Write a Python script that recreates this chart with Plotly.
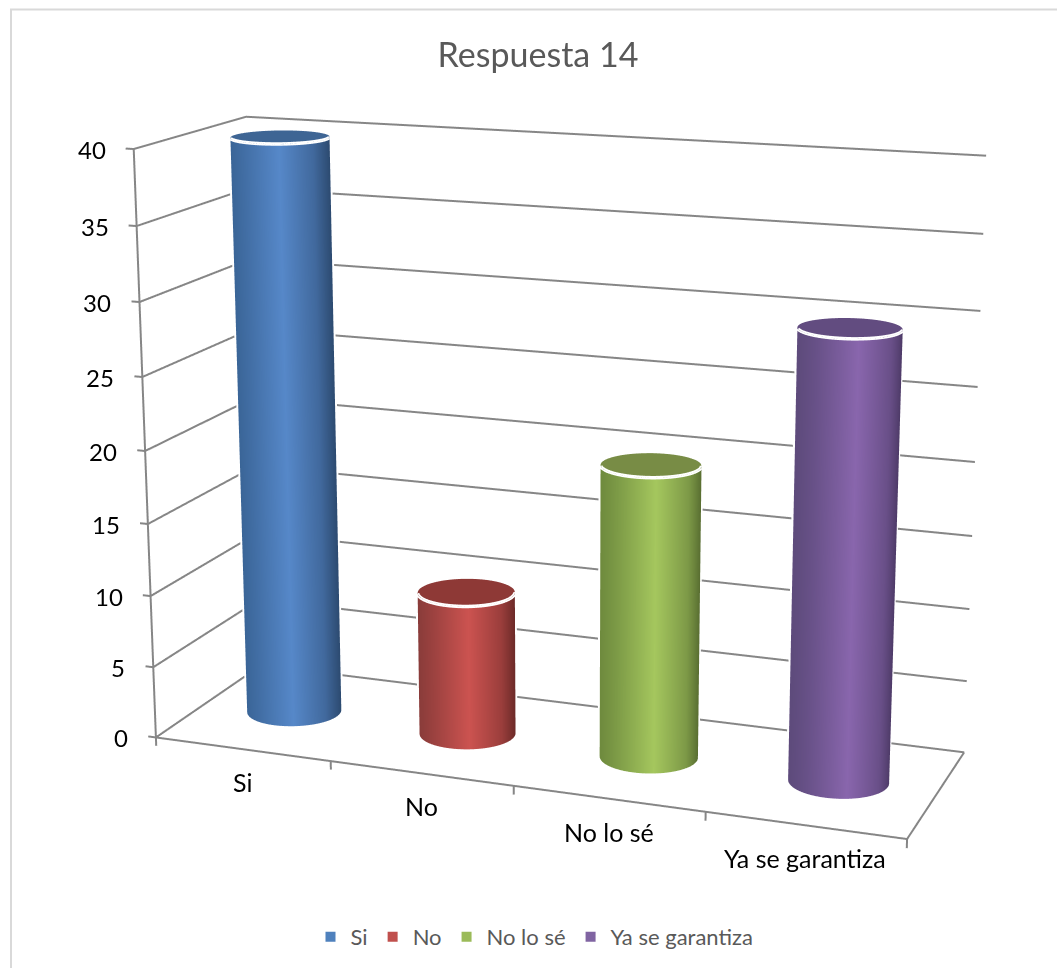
import numpy as np
import plotly.graph_objects as go

W, H = 1057, 968
categories = ["Si", "No", "No lo sé", "Ya se garantiza"]
values = [40, 10, 20, 30]
z_ticks = [0, 5, 10, 15, 20, 25, 30, 35, 40]
face_dark_left = ["#3A6597", "#8A3C3A", "#6F8B3E", "#5E4B7C"]
face_light = ["#5688C9", "#CC5350", "#A5C75E", "#8966AD"]
face_dark_right = ["#2D4B71", "#6B2A28", "#566B30", "#4A3863"]
cap_colors = ["#3E6594", "#8E3936", "#788C45", "#624C80"]
legend_colors = ["#4F81BD", "#C0504D", "#9BBB59", "#8064A2"]
GRID = "#868686"
NO_LIGHT = dict(ambient=1, diffuse=0, specular=0, roughness=1, fresnel=0)

# camera of the perspective view
eye = np.array([1.209, -3.252, 0.906])
yaw, pitch = -0.353, -0.250
forward = np.array([np.sin(yaw)*np.cos(pitch), np.cos(yaw)*np.cos(pitch), np.sin(pitch)])
center = eye + forward*np.linalg.norm(eye)
focal, cx, cy = 2846.0, 565, 441
half_w, half_h = 492, 441
fov = 2*np.arctan(half_h/focal)

# cylinder section on the floor plane: two conjugate radii
radius_a = np.array([0.2194, 0.0762])*1.05
radius_b = np.array([-0.0916, 0.1627])*1.08
theta = np.linspace(0, 2*np.pi, 181)
cos_t, sin_t = np.cos(theta), np.sin(theta)


def hex_rgb(c):
    return np.array([int(c[k:k+2], 16) for k in (1, 3, 5)], float)


def mix(c1, c2, t):
    m = hex_rgb(c1)*(1-t) + hex_rgb(c2)*t
    return "rgb(%d,%d,%d)" % tuple(m)


def flat_scale(c):
    return [[0, c], [1, c]]


def add_line(fig, xs, ys, zs, color=GRID, width=4):
    fig.add_trace(go.Scatter3d(x=xs, y=ys, z=zs, mode="lines", line=dict(color=color, width=width),
                               showlegend=False, hoverinfo="skip"))


fig = go.Figure()

# gridlines on the back and left walls
for v in z_ticks:
    add_line(fig, [0, 0, 4], [0, 1, 1], [v, v, v])
    add_line(fig, [-0.045, 0], [0, 0], [v, v])
# floor edges, the vertical axis and the category ticks
add_line(fig, [0, 4, 4], [0, 0, 1], [0, 0, 0])
add_line(fig, [0, 0], [0, 0], [0, 40])
for t in range(5):
    add_line(fig, [t, t], [0, 0], [0, -0.6])

for i, (name, v) in enumerate(zip(categories, values)):
    xc, yc = i + 0.5, 0.5
    ring_x = radius_a[0]*cos_t + radius_b[0]*sin_t
    ring_y = radius_a[1]*cos_t + radius_b[1]*sin_t

    # white halo behind the cylinder
    back = theta <= np.pi
    fig.add_trace(go.Surface(x=np.array([xc + 1.04*ring_x[back]]*2), y=np.array([yc + 1.04*ring_y[back]]*2),
        z=np.array([np.zeros(back.sum()), np.full(back.sum(), v)]), surfacecolor=np.zeros((2, back.sum())),
        colorscale=flat_scale("#FFFFFF"), cmin=0, cmax=1, showscale=False, hoverinfo="skip", lighting=NO_LIGHT))

    shade = [[0, face_dark_left[i]], [0.13, mix(face_dark_left[i], face_light[i], 0.25)],
             [0.5, face_light[i]], [0.84, mix(face_dark_right[i], face_light[i], 0.5)], [1, face_dark_right[i]]]
    fig.add_trace(go.Surface(x=np.array([xc + ring_x]*2), y=np.array([yc + ring_y]*2),
        z=np.array([np.zeros_like(theta), np.full_like(theta, v)]), surfacecolor=np.array([cos_t]*2),
        colorscale=shade, cmin=-1, cmax=1, showscale=False, hoverinfo="skip", lighting=NO_LIGHT))

    r = np.array([0.0, 1.0])
    fig.add_trace(go.Surface(x=xc + np.outer(r, ring_x), y=yc + np.outer(r, ring_y),
        z=np.full((2, theta.size), v), surfacecolor=np.zeros((2, theta.size)),
        colorscale=flat_scale(cap_colors[i]), cmin=0, cmax=1, showscale=False, hoverinfo="skip", lighting=NO_LIGHT))

    front = theta >= np.pi
    add_line(fig, xc + ring_x[front], yc + ring_y[front], np.full(front.sum(), v), "white", 7)

    fig.add_trace(go.Scatter3d(x=[None], y=[None], z=[None], mode="markers", name=name,
        marker=dict(symbol="square", size=10, color=legend_colors[i])))

ann = []
for v in z_ticks:
    ann.append(dict(x=0, y=0, z=v, text=str(v), showarrow=False, xanchor="right", xshift=-26,
                    font=dict(family="Lato", size=24, color="#000000")))
for i, name in enumerate(categories):
    ann.append(dict(x=i + 0.5, y=0, z=0, text=name, showarrow=False, yshift=-33,
                    font=dict(family="Lato", size=25, color="#000000")))

axis = dict(showbackground=False, showspikes=False, zeroline=False, showticklabels=False, title="",
            showline=False, showgrid=False, ticks="")
border = dict(type="line", xref="paper", yref="paper", line=dict(color="#D9D9D9", width=2))
fig.update_layout(
    width=W, height=H, margin=dict(l=0, r=0, t=0, b=0), paper_bgcolor="white",
    title=dict(text="Respuesta 14", x=538/W, xanchor="center", y=1-55/H, yanchor="middle",
               font=dict(family="Lato", size=34, color="#595959")),
    legend=dict(orientation="h", x=(W/2+6)/W, xanchor="center", y=1-937/H, yanchor="middle",
                font=dict(family="Lato", size=22, color="#595959")),
    scene=dict(domain=dict(x=[(cx-half_w)/W, (cx+half_w)/W], y=[1-2*half_h/H, 1]),
        xaxis=dict(axis, range=[-0.2, 4.2]),
        yaxis=dict(axis, range=[0, 1]),
        zaxis=dict(axis, range=[-2, 42]),
        aspectmode="manual", aspectratio=dict(x=1.1, y=0.310, z=0.771*1.1),
        camera=dict(eye=dict(x=eye[0], y=eye[1], z=eye[2]), center=dict(x=center[0], y=center[1], z=center[2]),
                    up=dict(x=0, y=0, z=1)),
        annotations=ann),
    shapes=[dict(border, x0=10/W, x1=1, y0=1-9.5/H, y1=1-9.5/H),
            dict(border, x0=11/W, x1=11/W, y0=0, y1=1-9.5/H)],
)
script = """
var gd = document.getElementById('{plot_id}');
var glplot = gd._fullLayout.scene._scene.glplot;
glplot.fovy = %f;
glplot.redraw && glplot.redraw();
""" % fov
fig.write_html("out.html", post_script=script)
